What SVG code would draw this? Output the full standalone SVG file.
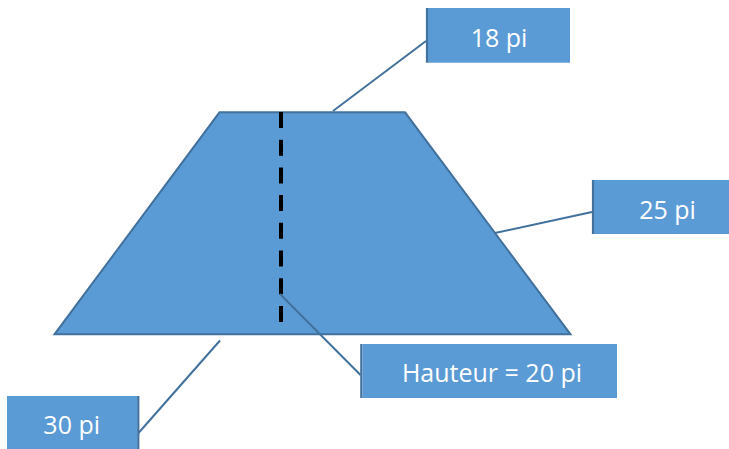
<svg xmlns="http://www.w3.org/2000/svg" width="729" height="449" viewBox="0 0 729 449">
<style>
.shape{fill:#5B9BD5;stroke:#41719C;stroke-width:2;stroke-linejoin:miter}
.box{fill:#5B9BD5}
.bar{stroke:#41719C;stroke-width:2.2;fill:none}
.lead{stroke:#41719C;stroke-width:2;fill:none}
.dash{stroke:#000;stroke-width:4;stroke-dasharray:16 11.7;fill:none}
.lbl{font-family:"Open Sans","Liberation Sans",sans-serif;font-size:25px;fill:#fff;text-anchor:middle}
</style>
<rect width="729" height="449" fill="#fff"/>
<g id="trapezoid">
<polygon class="shape" points="219.5,112.3 405,112.3 570.5,334.3 54.5,334.3"/>
<line class="dash" x1="281" y1="112" x2="281" y2="323"/>
</g>
<g id="connectors">
<line class="lead" x1="426" y1="41" x2="333" y2="111"/>
<line class="lead" x1="592" y1="212" x2="495" y2="233"/>
<line class="lead" x1="280" y1="294" x2="360.5" y2="375"/>
<line class="lead" x1="138.5" y1="433" x2="220" y2="340.5"/>
</g>
<g id="label-18">
<rect class="box" x="428" y="8" width="142" height="54.7"/>
<line class="bar" x1="427" y1="8" x2="427" y2="62.7"/>
<text class="lbl" x="499" y="46.5">18 pi</text>
</g>
<g id="label-25">
<rect class="box" x="594" y="180" width="150" height="54"/>
<line class="bar" x1="593" y1="180" x2="593" y2="234"/>
<text class="lbl" x="667.5" y="219">25 pi</text>
</g>
<g id="label-hauteur">
<rect class="box" x="362.5" y="344" width="254.5" height="54"/>
<line class="bar" x1="361.3" y1="344" x2="361.3" y2="398"/>
<text class="lbl" x="492" y="381.5">Hauteur = 20 pi</text>
</g>
<g id="label-30">
<rect class="box" x="7" y="396" width="130.5" height="60"/>
<line class="bar" x1="138.3" y1="396" x2="138.3" y2="456"/>
<text class="lbl" x="71.7" y="434">30 pi</text>
</g>
</svg>
